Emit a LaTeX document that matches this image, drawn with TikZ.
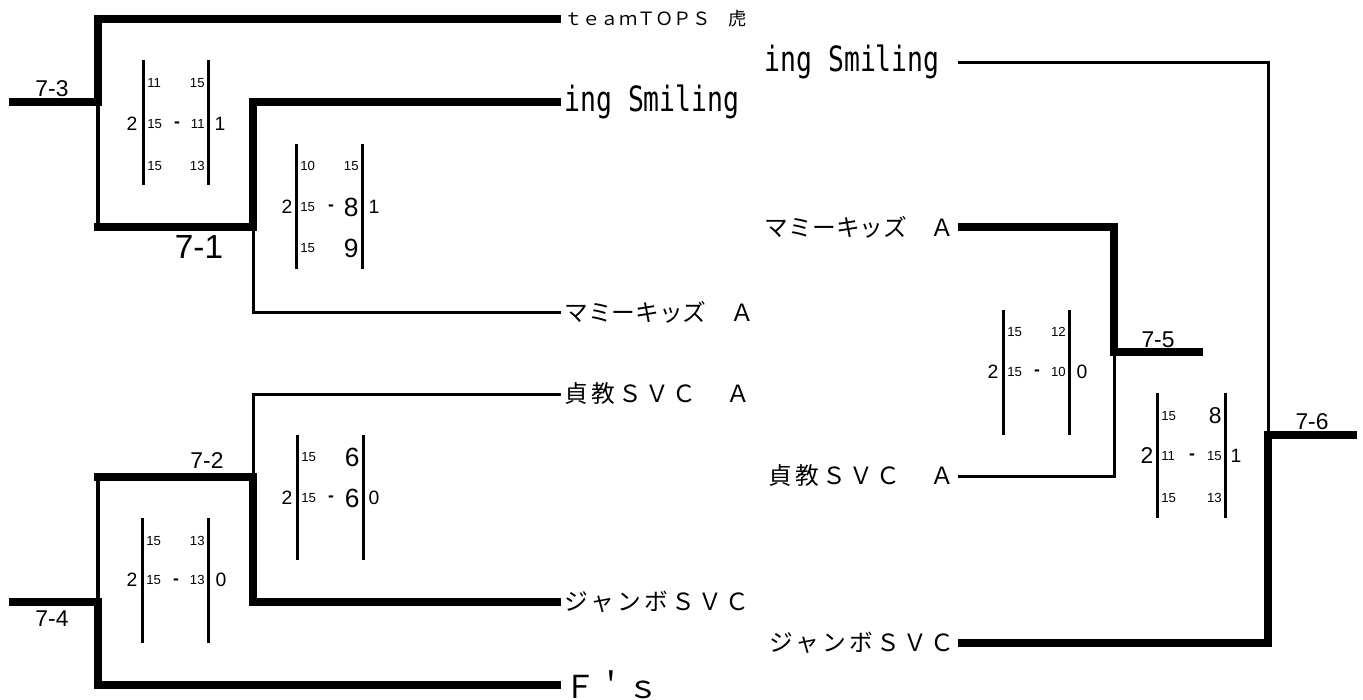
\documentclass[tikz,border=0pt]{standalone}
\usepackage{fontspec}
\setmainfont{Liberation Sans}
\newfontfamily\jpfont{Noto Sans CJK JP}
\newfontfamily\jpwide[LetterSpace=14]{Noto Sans CJK JP}
\newfontfamily\narrowmono[FakeStretch=0.76]{DejaVu Sans Mono}

\begin{document}
\begin{tikzpicture}[x=0.02cm, y=-0.02cm]
    \tikzset{win/.style = {draw, line width=0.16cm}}
    \tikzset{midline/.style = {draw, line width=0.08cm}}
    \tikzset{lose/.style = {draw, line width=0.06cm}}
    \tikzset{scorebar/.style = {draw, line width=0.06cm}}
    \tikzset{team/.style = {inner xsep=0.06cm, inner ysep=0pt, font=\jpfont\fontsize{13.5}{16}\selectfont}}
    \tikzset{wideteam/.style = {team, font=\jpwide\fontsize{13.5}{16}\selectfont}}
    \tikzset{latinteam/.style = {team, font=\narrowmono\fontsize{19.8}{22}\selectfont}}
    \tikzset{roundlabel/.style = {inner sep=0pt, font=\fontsize{13}{14}\selectfont}}
    \tikzset{scorept/.style = {inner sep=0pt, font=\fontsize{7.5}{8}\selectfont}}
    \tikzset{bigpt/.style = {inner sep=0pt, font=\fontsize{15}{16}\selectfont}}
    \tikzset{setcount/.style = {inner sep=0pt, font=\fontsize{11}{12}\selectfont}}
    \tikzset{scoredash/.style = {inner sep=0pt, font=\bfseries\fontsize{10}{10}\selectfont}}

    \useasboundingbox (0,0) rectangle (1363,700);

    % teams, left
    \node[team, anchor=west, font=\jpfont\fontsize{10.4}{12}\selectfont] (tops) at (561,19) {ｔｅａｍＴＯＰＳ　虎};
    \node[latinteam, anchor=west] (smile) at (561,102) {ing Smiling};
    \node[team, anchor=west] (mami) at (561,312) {マミーキッズ　Ａ};
    \node[wideteam, anchor=west] (teik) at (561,394) {貞教ＳＶＣ　Ａ};
    \node[wideteam, anchor=west] (jumbo) at (561,602) {ジャンボＳＶＣ};
    \node[team, anchor=west, font=\jpfont\fontsize{18}{20}\selectfont] (fs) at (561,685) {Ｆ＇ｓ};

    % teams, right
    \node[latinteam, anchor=east, inner xsep=0.36cm] (smileR) at (958,62) {ing Smiling};
    \node[team, anchor=east] (mamiR) at (958,227) {マミーキッズ　Ａ};
    \node[wideteam, anchor=east] (teikR) at (958,476) {貞教ＳＶＣ　Ａ};
    \node[wideteam, anchor=east] (jumboR) at (958,643) {ジャンボＳＶＣ};

    % junctions
    \coordinate (in73) at (9,102);
    \coordinate (j73) at (98,102);
    \coordinate (k71) at (94,227);
    \coordinate (j71) at (253,227);
    \coordinate (in74) at (9,602);
    \coordinate (j74) at (98,602);
    \coordinate (k72) at (94,477);
    \coordinate (j72) at (253,477);
    \coordinate (j75) at (1114,352);
    \coordinate (out75) at (1203,352);
    \coordinate (j76) at (1268,435);
    \coordinate (out76) at (1357,435);

    % brackets, left
    \draw[win] (in73) -- (j73) |- (tops.west);
    \draw[midline] (j73) -- (j73 |- j71);
    \draw[win] (k71) -- (j71) |- (smile.west);
    \draw[lose] (j71) |- (mami.west);
    \draw[win] (in74) -- (j74) |- (fs.west);
    \draw[midline] (j74) -- (j74 |- j72);
    \draw[win] (k72) -- (j72) |- (jumbo.west);
    \draw[lose] (j72) |- (teik.west);

    % brackets, right
    \draw[win] (mamiR.east) -| (j75) -- (out75);
    \draw[lose] (teikR.east) -| (j75);
    \draw[lose] (smileR.east) -| (j76);
    \draw[win] (jumboR.east) -| (j76) -- (out76);

    % match labels
    \node[roundlabel] (l73) at (52,89) {7-3};
    \node[roundlabel, font=\fontsize{19}{20}\selectfont] (l71) at (199,247) {7-1};
    \node[roundlabel] (l72) at (207,461) {7-2};
    \node[roundlabel] (l74) at (52,619) {7-4};
    \node[roundlabel] (l75) at (1158,340) {7-5};
    \node[roundlabel] (l76) at (1312,422) {7-6};

    % score 7-3
    \draw[scorebar] (143,60) -- (143,185);
    \draw[scorebar] (208,60) -- (208,185);
    \node[setcount] (w73) at (132,124) {2};
    \node[setcount] (v73) at (220,124) {1};
    \node[scoredash] (d73) at (177,125) {-};
    \node[scorept, anchor=west] (a73x) at (147,83) {11};
    \node[scorept, anchor=west] (a73y) at (147,124) {15};
    \node[scorept, anchor=west] (a73z) at (147,166) {15};
    \node[scorept, anchor=east] (b73x) at (205,83) {15};
    \node[scorept, anchor=east] (b73y) at (205,124) {11};
    \node[scorept, anchor=east] (b73z) at (205,166) {13};

    % score 7-1
    \draw[scorebar] (296,144) -- (296,269);
    \draw[scorebar] (362,144) -- (362,269);
    \node[setcount] (w71) at (287,207) {2};
    \node[setcount] (v71) at (374,207) {1};
    \node[scoredash] (d71) at (331,208) {-};
    \node[scorept, anchor=west] (a71x) at (300,166) {10};
    \node[scorept, anchor=west] (a71y) at (300,207) {15};
    \node[scorept, anchor=west] (a71z) at (300,248) {15};
    \node[scorept, anchor=east] (b71x) at (359,166) {15};
    \node[bigpt, anchor=east] (b71y) at (359,207) {8};
    \node[bigpt, anchor=east] (b71z) at (359,248) {9};

    % score 7-2
    \draw[scorebar] (297,435) -- (297,560);
    \draw[scorebar] (363,435) -- (363,560);
    \node[setcount] (w72) at (287,498) {2};
    \node[setcount] (v72) at (374,498) {0};
    \node[scoredash] (d72) at (331,499) {-};
    \node[scorept, anchor=west] (a72x) at (301,457) {15};
    \node[scorept, anchor=west] (a72y) at (301,498) {15};
    \node[bigpt, anchor=east] (b72x) at (360,457) {6};
    \node[bigpt, anchor=east] (b72y) at (360,498) {6};

    % score 7-4
    \draw[scorebar] (142,518) -- (142,643);
    \draw[scorebar] (208,518) -- (208,643);
    \node[setcount] (w74) at (132,580) {2};
    \node[setcount] (v74) at (221,580) {0};
    \node[scoredash] (d74) at (176,582) {-};
    \node[scorept, anchor=west] (a74x) at (146,541) {15};
    \node[scorept, anchor=west] (a74y) at (146,580) {15};
    \node[scorept, anchor=east] (b74x) at (205,541) {13};
    \node[scorept, anchor=east] (b74y) at (205,580) {13};

    % score 7-5
    \draw[scorebar] (1003,310) -- (1003,435);
    \draw[scorebar] (1069,310) -- (1069,435);
    \node[setcount] (w75) at (993,372) {2};
    \node[setcount] (v75) at (1082,372) {0};
    \node[scoredash] (d75) at (1037,373) {-};
    \node[scorept, anchor=west] (a75x) at (1007,332) {15};
    \node[scorept, anchor=west] (a75y) at (1007,372) {15};
    \node[scorept, anchor=east] (b75x) at (1066,332) {12};
    \node[scorept, anchor=east] (b75y) at (1066,372) {10};

    % score 7-6
    \draw[scorebar] (1157,393) -- (1157,518);
    \draw[scorebar] (1225,393) -- (1225,518);
    \node[setcount, font=\fontsize{13}{14}\selectfont] (w76) at (1147,456) {2};
    \node[setcount] (v76) at (1236,456) {1};
    \node[scoredash] (d76) at (1192,457) {-};
    \node[scorept, anchor=west] (a76x) at (1161,416) {15};
    \node[scorept, anchor=west] (a76y) at (1161,456) {11};
    \node[scorept, anchor=west] (a76z) at (1161,498) {15};
    \node[bigpt, anchor=east, font=\fontsize{13}{14}\selectfont] (b76x) at (1222,416) {8};
    \node[scorept, anchor=east] (b76y) at (1222,456) {15};
    \node[scorept, anchor=east] (b76z) at (1222,498) {13};
\end{tikzpicture}
\end{document}
